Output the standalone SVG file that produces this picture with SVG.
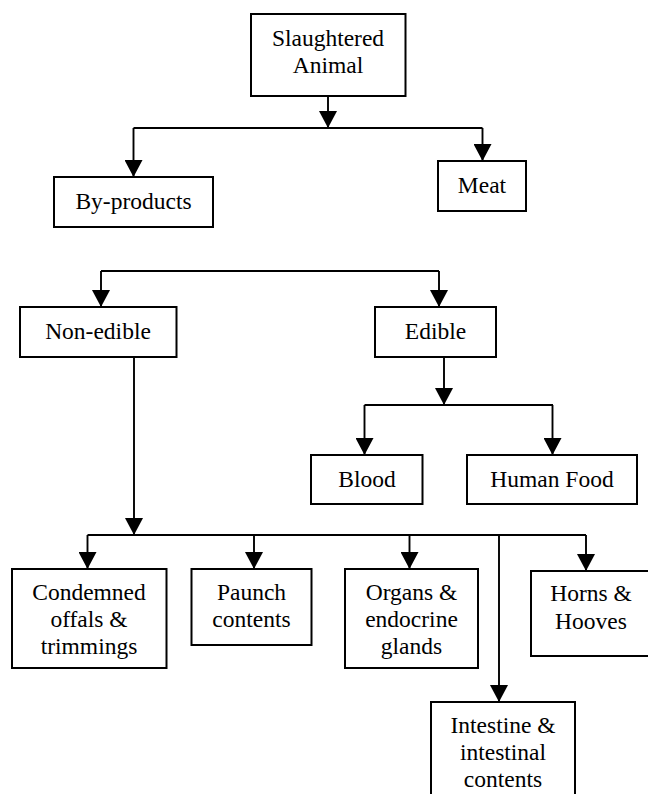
<svg xmlns="http://www.w3.org/2000/svg" width="648" height="794" viewBox="0 0 648 794">
<style>
.box{fill:#fff;stroke:#000;stroke-width:2}
.lbl{font-family:"Liberation Serif","Times New Roman",serif;font-size:23.5px;fill:#000;text-anchor:middle}
.con{fill:none;stroke:#000;stroke-width:1.9}
.arr{marker-end:url(#ah)}
</style>
<defs>
<marker id="ah" markerUnits="userSpaceOnUse" markerWidth="17" markerHeight="18" viewBox="0 0 17 18" refX="17" refY="9" orient="auto">
<path d="M0,0 L17,9 L0,18 Z" fill="#000"/>
</marker>
</defs>
<rect width="648" height="794" fill="#fff"/>
<g id="connectors">
<path class="con arr" d="M328,96 V128"/>
<path class="con" d="M133.5,128 H482.5"/>
<path class="con arr" d="M133.5,128 V177"/>
<path class="con arr" d="M482.5,128 V161"/>
<path class="con" d="M101,271 H439"/>
<path class="con arr" d="M101,271 V307"/>
<path class="con arr" d="M439,271 V307"/>
<path class="con arr" d="M444,357 V405"/>
<path class="con" d="M364.5,405 H553"/>
<path class="con arr" d="M364.5,405 V455"/>
<path class="con arr" d="M552.5,405 V455"/>
<path class="con arr" d="M134,357 V535"/>
<path class="con" d="M87.5,535 H586"/>
<path class="con arr" d="M87.5,535 V569"/>
<path class="con arr" d="M254,535 V569"/>
<path class="con arr" d="M409.5,535 V569"/>
<path class="con arr" d="M499,535 V702"/>
<path class="con arr" d="M586,535 V571"/>
</g>
<g id="slaughtered">
<rect class="box" x="251" y="14" width="154.5" height="82"/>
<text class="lbl" x="328" y="45.5">Slaughtered</text>
<text class="lbl" x="328" y="72.5">Animal</text>
</g>
<g id="byproducts">
<rect class="box" x="54" y="177" width="159" height="50"/>
<text class="lbl" x="133.5" y="209">By-products</text>
</g>
<g id="meat">
<rect class="box" x="438" y="161" width="88" height="50"/>
<text class="lbl" x="482" y="192.5">Meat</text>
</g>
<g id="nonedible">
<rect class="box" x="20" y="307" width="156.5" height="50"/>
<text class="lbl" x="98" y="339">Non-edible</text>
</g>
<g id="edible">
<rect class="box" x="375" y="307" width="121" height="50"/>
<text class="lbl" x="435.5" y="339">Edible</text>
</g>
<g id="blood">
<rect class="box" x="311" y="455" width="111.5" height="49"/>
<text class="lbl" x="367" y="486.5">Blood</text>
</g>
<g id="humanfood">
<rect class="box" x="467" y="455" width="170" height="49"/>
<text class="lbl" x="552" y="486.5">Human Food</text>
</g>
<g id="condemned">
<rect class="box" x="12" y="569" width="154.5" height="99"/>
<text class="lbl" x="89" y="600">Condemned</text>
<text class="lbl" x="89" y="627">offals &amp;</text>
<text class="lbl" x="89" y="653.5">trimmings</text>
</g>
<g id="paunch">
<rect class="box" x="191.5" y="569" width="120" height="76"/>
<text class="lbl" x="251.5" y="600">Paunch</text>
<text class="lbl" x="251.5" y="627">contents</text>
</g>
<g id="organs">
<rect class="box" x="345" y="569" width="133" height="99"/>
<text class="lbl" x="411.5" y="600">Organs &amp;</text>
<text class="lbl" x="411.5" y="627">endocrine</text>
<text class="lbl" x="411.5" y="653.5">glands</text>
</g>
<g id="horns">
<rect class="box" x="531" y="571" width="121" height="85"/>
<text class="lbl" x="591" y="601">Horns &amp;</text>
<text class="lbl" x="591" y="629">Hooves</text>
</g>
<g id="intestine">
<rect class="box" x="431" y="702" width="144" height="100"/>
<text class="lbl" x="503" y="733">Intestine &amp;</text>
<text class="lbl" x="503" y="760">intestinal</text>
<text class="lbl" x="503" y="786.5">contents</text>
</g>
</svg>
